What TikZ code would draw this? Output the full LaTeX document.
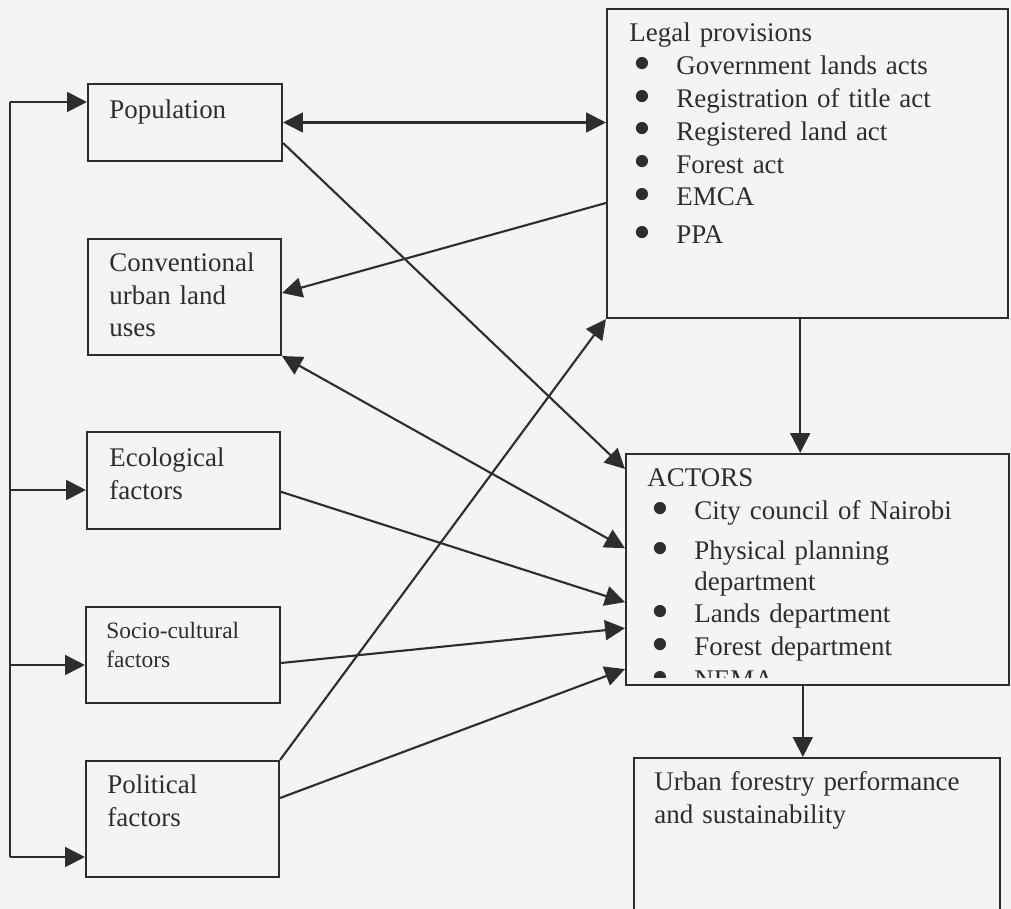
\documentclass[tikz,border=0pt]{standalone}
\usepackage{fontspec}
\usepackage{graphicx}
\setmainfont{Liberation Serif}
\usetikzlibrary{arrows.meta,positioning}
\definecolor{ink}{RGB}{45,45,45}
\definecolor{paper}{RGB}{244,244,244}
\tikzstyle{blk}=[draw=ink, line width=0.9pt, inner sep=0pt]
\tikzstyle{txt}=[text=ink, inner sep=0pt, anchor=base west, align=left, font=\fontsize{11.5}{13.8}\selectfont]
\tikzstyle{link}=[color=ink, line width=0.9pt]
\newcommand{\itm}[1]{\hspace*{0.06cm}\makebox[0.645cm][l]{\smash{\raisebox{-2.4pt}{\scalebox{1.9}{\textbullet}}}}#1}

\begin{document}
\begin{tikzpicture}[>={Triangle[length=8.5pt,width=8.5pt]}]
\useasboundingbox (0,0) rectangle (15.165,-13.635);
\fill[paper] (0,0) rectangle (15.165,-13.635);
% left column
\node [blk, minimum width=2.91cm, minimum height=1.155cm] (pop) at (2.775,-1.8375) {};
\node [blk, minimum width=2.895cm, minimum height=1.74cm] (conv) at (2.7675,-4.455) {};
\node [blk, minimum width=2.895cm, minimum height=1.455cm] (eco) at (2.7525,-7.2075) {};
\node [blk, minimum width=2.91cm, minimum height=1.44cm] (socio) at (2.745,-9.825) {};
\node [blk, minimum width=2.895cm, minimum height=1.74cm] (pol) at (2.7375,-12.285) {};
% right column
\node [blk, minimum width=6.015cm, minimum height=4.635cm] (legal) at (12.1125,-2.4525) {};
\node [blk, minimum width=5.745cm, minimum height=3.465cm] (actors) at (12.2625,-8.5425) {};
\node [blk, minimum width=5.49cm, minimum height=3cm] (urban) at (12.255,-12.87) {};

\node [txt, text width=2.8cm] (poptxt) at ([shift={(0.33,-0.54)}]pop.north west) {Population};
\node [txt, text width=2.8cm] (convtxt) at ([shift={(0.33,-0.51)}]conv.north west) {Conventional\\urban land\\uses};
\node [txt, text width=2.8cm] (ecotxt) at ([shift={(0.345,-0.54)}]eco.north west) {Ecological\\factors};
\node [txt, text width=2.8cm, font=\fontsize{10}{12}\selectfont] (sociotxt) at ([shift={(0.315,-0.495)}]socio.north west) {Socio-cultural\\factors};
\node [txt, text width=2.8cm] (poltxt) at ([shift={(0.33,-0.51)}]pol.north west) {Political\\factors};
\node [txt, text width=5.5cm, font=\fontsize{11.5}{14}\selectfont] (legaltxt) at ([shift={(0.345,-0.51)}]legal.north west)
  {Legal provisions\\ \itm{Government lands acts}\\ \itm{Registration of title act}\\ \itm{Registered land act}\\
   \itm{Forest act}\\ \itm{EMCA}\\[2pt] \itm{PPA}};
\begin{scope}
\clip (actors.north west) rectangle ([yshift=0.135cm]actors.south east);
\node [txt, text width=5.4cm, font=\fontsize{11.5}{14}\selectfont] (actorstxt) at ([shift={(0.33,-0.51)}]actors.north west)
  {ACTORS\\ \itm{City council of Nairobi}\\[3pt] \itm{Physical planning}\\[-1pt] \hspace*{0.705cm}department\\
   \itm{Lands department}\\ \itm{Forest department}\\ \itm{NEMA}};
\end{scope}
\node [txt, text width=5.2cm] (urbantxt) at ([shift={(0.315,-0.51)}]urban.north west) {Urban forestry performance\\and sustainability};

% feedback spine on the left
\coordinate (s1) at (0.15,-1.53);
\coordinate (s2) at (0.15,-7.35);
\coordinate (s3) at (0.15,-9.975);
\coordinate (s4) at (0.15,-12.855);
\draw [link] (s1) -- (s4);
\draw [link,->] (s1) -- (s1 -| pop.west);
\draw [link,->] (s2) -- (s2 -| eco.west);
\draw [link,->] (s3) -- (s3 -| socio.west);
\draw [link,->] (s4) -- (s4 -| pol.west);

% links between columns
\path [link,<->] (pop.east) edge (pop.east -| legal.west);
\path [link,->] ([yshift=-0.5925cm]legal.west) edge ([yshift=0.06cm]conv.east);
\path [link,->] ([yshift=-0.3075cm]pop.east) edge ([yshift=-0.24cm]actors.north west);
\path [link,<->] (conv.south east) edge ([yshift=0.32cm]actors.west);
\path [link,->] (pol.north east) edge (legal.south west);
\path [link,->] ([yshift=-0.17cm]eco.east) edge ([yshift=-0.49cm]actors.west);
\path [link,->] ([yshift=-0.12cm]socio.east) edge ([yshift=-0.88cm]actors.west);
\path [link,->] ([yshift=0.315cm]pol.east) edge ([yshift=0.255cm]actors.south west);
\path [link,->] ([xshift=-0.11cm]legal.south) edge ([xshift=-0.11cm]legal.south |- actors.north);
\path [link,->] ([xshift=-0.22cm]actors.south) edge ([xshift=-0.22cm]actors.south |- urban.north);
\end{tikzpicture}
\end{document}
